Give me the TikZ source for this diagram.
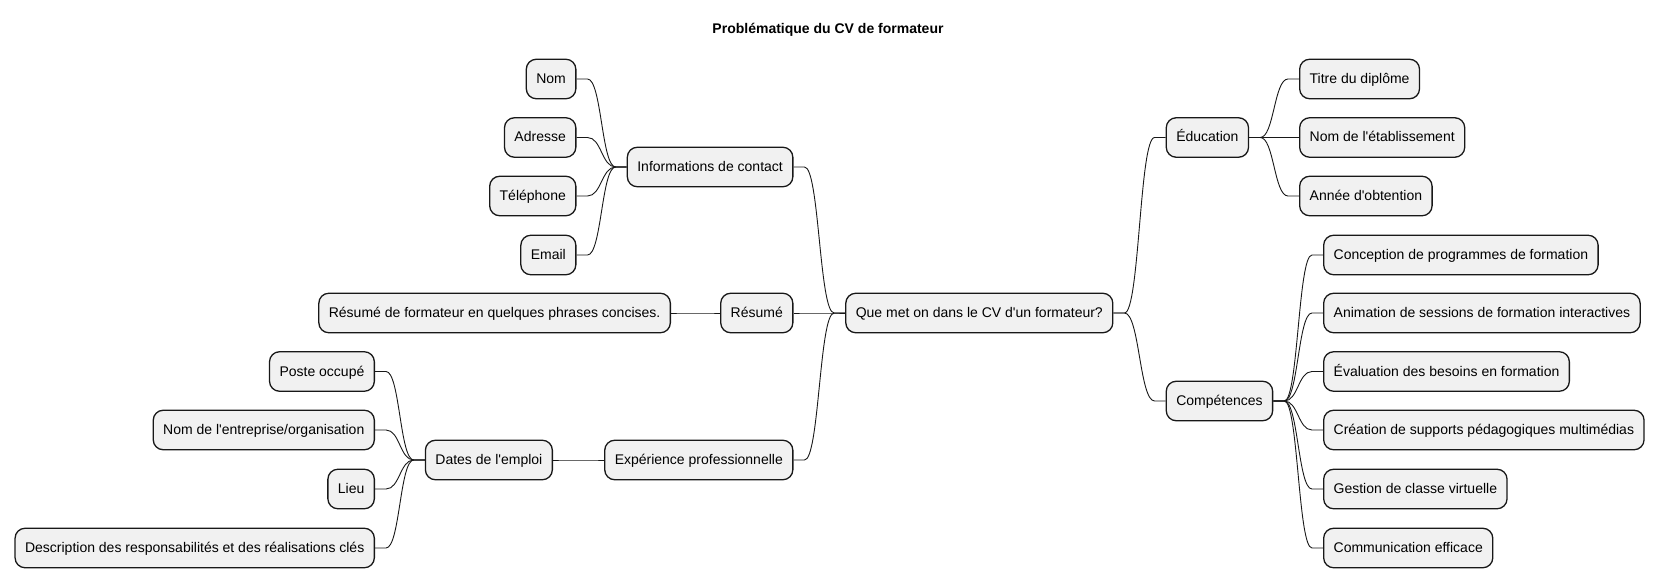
\documentclass[tikz,border=0pt]{standalone}
\usepackage{fontspec}
\setmainfont{Liberation Sans}
\usetikzlibrary{calc}
\definecolor{boxfill}{HTML}{F1F1F1}
\definecolor{boxline}{HTML}{181818}
\newcommand{\aq}{\textquotesingle}
\tikzset{
  mm/.style={draw=boxline, fill=boxfill, line width=1.3pt, rounded corners=10pt,
    inner xsep=10pt, inner ysep=0pt, minimum height=39.5pt,
    font=\fontsize{14}{16}\selectfont, text height=11.5pt, text depth=2.5pt},
  edge/.style={draw=boxline, line width=0.9pt},
  titlestyle/.style={font=\fontsize{14}{16}\selectfont\bfseries}
}
\newcommand{\rlink}[2]{%
  \path (#1.east) ++(11pt,0) coordinate (s) (#2.west) ++(-11pt,0) coordinate (e);
  \path ($(s)!0.5!(e)$) coordinate (m);
  \draw[edge] (#1.east) -- (s) .. controls (m|-s) and (m|-e) .. (e) -- (#2.west);}
\newcommand{\llink}[2]{%
  \path (#1.west) ++(-11pt,0) coordinate (s) (#2.east) ++(11pt,0) coordinate (e);
  \path ($(s)!0.5!(e)$) coordinate (m);
  \draw[edge] (#1.west) -- (s) .. controls (m|-s) and (m|-e) .. (e) -- (#2.east);}
\begin{document}
\begin{tikzpicture}[x=1pt,y=-1pt]
\useasboundingbox (0,0) rectangle (1657,588);
\node[titlestyle] (title) at (828,30) {Problématique du CV de formateur};
% root
\node[mm] (root) at (979.3,313) {Que met on dans le CV d\aq un formateur?};
% left side
\node[mm, anchor=east] (info) at (793.5,167) {Informations de contact};
\node[mm, anchor=east] (nom) at (576.5,79) {Nom};
\node[mm, anchor=east] (adr) at (576.5,137.5) {Adresse};
\node[mm, anchor=east] (tel) at (576.5,196) {Téléphone};
\node[mm, anchor=east] (mail) at (576.5,255) {Email};
\node[mm, anchor=east] (res) at (793.5,313) {Résumé};
\node[mm, anchor=east] (resd) at (671,313) {Résumé de formateur en quelques phrases concises.};
\node[mm, anchor=east] (exp) at (793.5,460) {Expérience professionnelle};
\node[mm, anchor=east] (dates) at (553,460) {Dates de l\aq emploi};
\node[mm, anchor=east] (poste) at (375,371.5) {Poste occupé};
\node[mm, anchor=east] (entr) at (375,430) {Nom de l\aq entreprise/organisation};
\node[mm, anchor=east] (lieu) at (375,489) {Lieu};
\node[mm, anchor=east] (desc) at (375,548) {Description des responsabilités et des réalisations clés};
% right side
\node[mm, anchor=west] (edu) at (1165.6,137.5) {Éducation};
\node[mm, anchor=west] (titre) at (1299,79) {Titre du diplôme};
\node[mm, anchor=west] (etab) at (1299,137.5) {Nom de l\aq établissement};
\node[mm, anchor=west] (annee) at (1299,196) {Année d\aq obtention};
\node[mm, anchor=west] (comp) at (1165.6,401) {Compétences};
\node[mm, anchor=west] (c1) at (1323,255) {Conception de programmes de formation};
\node[mm, anchor=west] (c2) at (1323,313) {Animation de sessions de formation interactives};
\node[mm, anchor=west] (c3) at (1323,371.5) {Évaluation des besoins en formation};
\node[mm, anchor=west] (c4) at (1323,430) {Création de supports pédagogiques multimédias};
\node[mm, anchor=west] (c5) at (1323,489) {Gestion de classe virtuelle};
\node[mm, anchor=west] (c6) at (1323,548) {Communication efficace};
% links
\llink{root}{info}
\llink{root}{res}
\llink{root}{exp}
\llink{info}{nom}
\llink{info}{adr}
\llink{info}{tel}
\llink{info}{mail}
\llink{res}{resd}
\llink{exp}{dates}
\llink{dates}{poste}
\llink{dates}{entr}
\llink{dates}{lieu}
\llink{dates}{desc}
\rlink{root}{edu}
\rlink{root}{comp}
\rlink{edu}{titre}
\rlink{edu}{etab}
\rlink{edu}{annee}
\rlink{comp}{c1}
\rlink{comp}{c2}
\rlink{comp}{c3}
\rlink{comp}{c4}
\rlink{comp}{c5}
\rlink{comp}{c6}
\end{tikzpicture}
\end{document}
